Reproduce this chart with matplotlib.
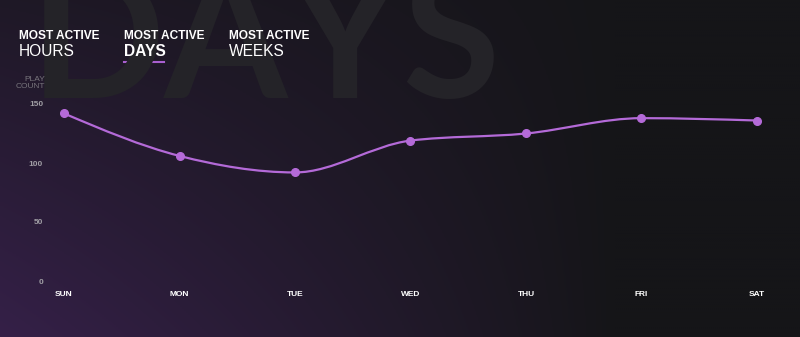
import numpy as np
import matplotlib.pyplot as plt
from matplotlib.path import Path
from matplotlib.patches import PathPatch

days = ['SUN', 'MON', 'TUE', 'WED', 'THU', 'FRI', 'SAT']
play_count = [142, 106, 92, 119, 125, 138, 136]
y_ticks = [0, 50, 100, 150]
tabs = ['HOURS', 'DAYS', 'WEEKS']

W, H = 800, 337
fig = plt.figure(figsize=(W / 100, H / 100), dpi=100)

# background gradient: purple bottom-left fading to near black on the right
bg = fig.add_axes([0, 0, 1, 1])
xx, yy = np.meshgrid(np.linspace(0, 1, 400), np.linspace(0, 1, 170))
dark = np.array([0x15, 0x15, 0x18]) / 255
purple = np.array([0x35, 0x20, 0x48]) / 255
w = np.clip(1 - xx * 1.3, 0, 1) ** 0.9 * (0.3 + 0.7 * yy)
img = dark + (purple - dark) * w[..., None]
bg.imshow(img, extent=[0, 1, 0, 1], aspect='auto', origin='upper')
bg.set_axis_off()

# faint big word behind
fig.text(30 / W, 1 - 98 / H, 'DAYS', fontsize=128, family='Lato', weight='bold',
         color='#242328', va='baseline', ha='left')

# tabs
tab_x = [19, 124, 229]
for x, t in zip(tab_x, tabs):
    fig.text(x / W, 1 - 39 / H, 'MOST ACTIVE', fontsize=8.6, weight='bold',
             family='Liberation Sans', color='white', va='baseline')
    fig.text(x / W, 1 - 56 / H, t, fontsize=11.2,
             weight='bold' if t == 'DAYS' else 'normal',
             family='Liberation Sans', color='white', va='baseline')
fig.add_artist(plt.Line2D([124 / W, 164 / W], [1 - 61.5 / H] * 2,
                          color='#a95fd0', lw=1.5))

# chart axes
left, right, bottom, top = 50, 770, 281, 104
ax = fig.add_axes([left / W, 1 - bottom / H, (right - left) / W, (bottom - top) / H])
ax.set_facecolor('none')
ppu = (757 - 64) / 6
ax.set_xlim(-(64 - left) / ppu, 6 + (right - 757) / ppu)
ax.set_ylim(0, 150)

x = np.arange(len(days), dtype=float)
y = np.array(play_count, float)

# monotone-x curve through the points (like d3.curveMonotoneX)
n = len(x)
h = np.diff(x)
s = np.diff(y) / h
m = np.zeros(n)
for i in range(1, n - 1):
    p = (s[i - 1] * h[i] + s[i] * h[i - 1]) / (h[i - 1] + h[i])
    m[i] = (np.sign(s[i - 1]) + np.sign(s[i])) * min(abs(s[i - 1]), abs(s[i]), 0.5 * abs(p))
m[0] = (3 * s[0] - m[1]) / 2
m[-1] = (3 * s[-1] - m[-2]) / 2
verts = [(x[0], y[0])]
codes = [Path.MOVETO]
for i in range(n - 1):
    d = h[i] / 3
    verts += [(x[i] + d, y[i] + d * m[i]), (x[i + 1] - d, y[i + 1] - d * m[i + 1]),
              (x[i + 1], y[i + 1])]
    codes += [Path.CURVE4] * 3
ax.add_patch(PathPatch(Path(verts, codes), facecolor='none', edgecolor='#b46ad8',
                       lw=1.6, clip_on=False))
ax.plot(x, y, 'o', color='#b46ad8', ms=5.5, clip_on=False)

ax.set_xticks(x)
ax.set_xticklabels(days)
ax.set_yticks(y_ticks)
ax.tick_params(length=0)
ax.tick_params(axis='x', pad=7, labelsize=6, colors='white')
ax.tick_params(axis='y', pad=5, labelsize=6, colors='#a09ea4')
for lab in ax.get_xticklabels() + ax.get_yticklabels():
    lab.set_family('Liberation Sans')
    lab.set_weight('bold')
for sp in ax.spines.values():
    sp.set_visible(False)

fig.text(45 / W, 1 - 83 / H, 'PLAY\nCOUNT', fontsize=6, family='Liberation Sans',
         color='#77747b', ha='right', va='center', linespacing=1.0)

fig.savefig('out.png', dpi=100)
